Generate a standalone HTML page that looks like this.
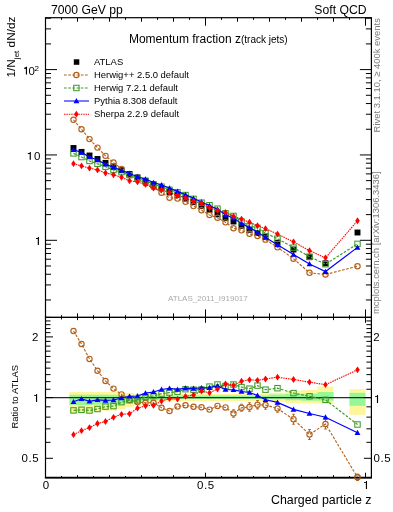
<!DOCTYPE html><html><head><meta charset="utf-8"><style>html,body{margin:0;padding:0;background:#fff;}svg{display:block;will-change:transform}text{font-family:'Liberation Sans',sans-serif}</style></head><body>
<svg width="393" height="512" viewBox="0 0 393 512">
<rect width="393" height="512" fill="#fff"/>
<path d="M69.50,391.90 L77.50,391.90 L77.50,391.90 L85.50,391.90 L85.50,391.90 L93.50,391.90 L93.50,391.90 L101.50,391.90 L101.50,391.90 L109.50,391.90 L109.50,391.90 L117.50,391.90 L117.50,392.60 L125.50,392.60 L125.50,393.10 L133.50,393.10 L133.50,393.70 L141.50,393.70 L141.50,394.00 L149.50,394.00 L149.50,394.20 L157.50,394.20 L157.50,394.30 L165.50,394.30 L165.50,394.30 L173.50,394.30 L173.50,394.10 L181.50,394.10 L181.50,394.10 L189.50,394.10 L189.50,394.10 L197.50,394.10 L197.50,394.10 L205.50,394.10 L205.50,394.10 L213.50,394.10 L213.50,394.10 L221.50,394.10 L221.50,394.10 L229.50,394.10 L229.50,394.10 L237.50,394.10 L237.50,394.10 L245.50,394.10 L245.50,394.10 L253.50,394.10 L253.50,394.10 L261.50,394.10 L261.50,394.10 L269.50,394.10 L269.50,392.80 L285.50,392.80 L285.50,391.00 L301.50,391.00 L301.50,390.10 L317.50,390.10 L317.50,386.60 L333.50,386.60 L333.50,403.80 L317.50,403.80 L317.50,403.60 L301.50,403.60 L301.50,403.20 L285.50,403.20 L285.50,401.70 L269.50,401.70 L269.50,400.90 L261.50,400.90 L261.50,400.90 L253.50,400.90 L253.50,400.90 L245.50,400.90 L245.50,400.90 L237.50,400.90 L237.50,400.90 L229.50,400.90 L229.50,400.90 L221.50,400.90 L221.50,400.90 L213.50,400.90 L213.50,400.90 L205.50,400.90 L205.50,400.90 L197.50,400.90 L197.50,400.90 L189.50,400.90 L189.50,400.90 L181.50,400.90 L181.50,400.90 L173.50,400.90 L173.50,401.60 L165.50,401.60 L165.50,401.60 L157.50,401.60 L157.50,401.80 L149.50,401.80 L149.50,403.30 L141.50,403.30 L141.50,405.40 L133.50,405.40 L133.50,406.90 L125.50,406.90 L125.50,408.90 L117.50,408.90 L117.50,410.40 L109.50,410.40 L109.50,410.80 L101.50,410.80 L101.50,411.60 L93.50,411.60 L93.50,413.20 L85.50,413.20 L85.50,413.20 L77.50,413.20 L77.50,413.20 L69.50,413.20 Z" fill="#fff59a"/>
<path d="M69.50,394.80 L77.50,394.80 L77.50,394.80 L85.50,394.80 L85.50,394.80 L93.50,394.80 L93.50,394.80 L101.50,394.80 L101.50,394.80 L109.50,394.80 L109.50,394.80 L117.50,394.80 L117.50,395.20 L125.50,395.20 L125.50,395.20 L133.50,395.20 L133.50,395.70 L141.50,395.70 L141.50,395.70 L149.50,395.70 L149.50,396.00 L157.50,396.00 L157.50,396.00 L165.50,396.00 L165.50,396.00 L173.50,396.00 L173.50,395.40 L181.50,395.40 L181.50,395.40 L189.50,395.40 L189.50,395.40 L197.50,395.40 L197.50,395.40 L205.50,395.40 L205.50,395.40 L213.50,395.40 L213.50,395.40 L221.50,395.40 L221.50,395.40 L229.50,395.40 L229.50,395.40 L237.50,395.40 L237.50,395.40 L245.50,395.40 L245.50,395.40 L253.50,395.40 L253.50,395.40 L261.50,395.40 L261.50,395.40 L269.50,395.40 L269.50,394.60 L285.50,394.60 L285.50,394.00 L301.50,394.00 L301.50,393.70 L317.50,393.70 L317.50,391.90 L333.50,391.90 L333.50,400.80 L317.50,400.80 L317.50,400.70 L301.50,400.70 L301.50,400.20 L285.50,400.20 L285.50,399.20 L269.50,399.20 L269.50,399.10 L261.50,399.10 L261.50,399.10 L253.50,399.10 L253.50,399.10 L245.50,399.10 L245.50,399.10 L237.50,399.10 L237.50,399.10 L229.50,399.10 L229.50,399.10 L221.50,399.10 L221.50,399.10 L213.50,399.10 L213.50,399.10 L205.50,399.10 L205.50,399.10 L197.50,399.10 L197.50,399.10 L189.50,399.10 L189.50,399.10 L181.50,399.10 L181.50,399.10 L173.50,399.10 L173.50,400.00 L165.50,400.00 L165.50,400.00 L157.50,400.00 L157.50,400.30 L149.50,400.30 L149.50,400.80 L141.50,400.80 L141.50,402.30 L133.50,402.30 L133.50,403.30 L125.50,403.30 L125.50,404.30 L117.50,404.30 L117.50,404.40 L109.50,404.40 L109.50,404.40 L101.50,404.40 L101.50,404.60 L93.50,404.60 L93.50,405.00 L85.50,405.00 L85.50,405.00 L77.50,405.00 L77.50,405.00 L69.50,405.00 Z" fill="#96f796"/>
<path d="M349.50,389.00 L365.50,389.00 L365.50,414.80 L349.50,414.80 Z" fill="#fff59a"/>
<path d="M349.50,392.80 L365.50,392.80 L365.50,405.80 L349.50,405.80 Z" fill="#96f796"/>
<line x1="45.5" y1="397.6" x2="371.4" y2="397.6" stroke="#2a2a2a" stroke-width="1.05"/>
<line x1="45.50" y1="17.70" x2="45.50" y2="25.70" stroke="#000" stroke-width="1.0"/>
<line x1="45.50" y1="317.40" x2="45.50" y2="309.40" stroke="#000" stroke-width="1.0"/>
<line x1="45.50" y1="317.40" x2="45.50" y2="322.80" stroke="#000" stroke-width="1.0"/>
<line x1="45.50" y1="477.70" x2="45.50" y2="472.70" stroke="#000" stroke-width="1.0"/>
<line x1="61.50" y1="17.70" x2="61.50" y2="19.90" stroke="#000" stroke-width="1.0"/>
<line x1="61.50" y1="317.40" x2="61.50" y2="315.20" stroke="#000" stroke-width="1.0"/>
<line x1="61.50" y1="317.40" x2="61.50" y2="319.40" stroke="#000" stroke-width="1.0"/>
<line x1="61.50" y1="477.70" x2="61.50" y2="476.00" stroke="#000" stroke-width="1.0"/>
<line x1="77.50" y1="17.70" x2="77.50" y2="21.70" stroke="#000" stroke-width="1.0"/>
<line x1="77.50" y1="317.40" x2="77.50" y2="313.40" stroke="#000" stroke-width="1.0"/>
<line x1="77.50" y1="317.40" x2="77.50" y2="320.10" stroke="#000" stroke-width="1.0"/>
<line x1="77.50" y1="477.70" x2="77.50" y2="475.10" stroke="#000" stroke-width="1.0"/>
<line x1="93.50" y1="17.70" x2="93.50" y2="19.90" stroke="#000" stroke-width="1.0"/>
<line x1="93.50" y1="317.40" x2="93.50" y2="315.20" stroke="#000" stroke-width="1.0"/>
<line x1="93.50" y1="317.40" x2="93.50" y2="319.40" stroke="#000" stroke-width="1.0"/>
<line x1="93.50" y1="477.70" x2="93.50" y2="476.00" stroke="#000" stroke-width="1.0"/>
<line x1="109.50" y1="17.70" x2="109.50" y2="21.70" stroke="#000" stroke-width="1.0"/>
<line x1="109.50" y1="317.40" x2="109.50" y2="313.40" stroke="#000" stroke-width="1.0"/>
<line x1="109.50" y1="317.40" x2="109.50" y2="320.10" stroke="#000" stroke-width="1.0"/>
<line x1="109.50" y1="477.70" x2="109.50" y2="475.10" stroke="#000" stroke-width="1.0"/>
<line x1="125.50" y1="17.70" x2="125.50" y2="19.90" stroke="#000" stroke-width="1.0"/>
<line x1="125.50" y1="317.40" x2="125.50" y2="315.20" stroke="#000" stroke-width="1.0"/>
<line x1="125.50" y1="317.40" x2="125.50" y2="319.40" stroke="#000" stroke-width="1.0"/>
<line x1="125.50" y1="477.70" x2="125.50" y2="476.00" stroke="#000" stroke-width="1.0"/>
<line x1="141.50" y1="17.70" x2="141.50" y2="21.70" stroke="#000" stroke-width="1.0"/>
<line x1="141.50" y1="317.40" x2="141.50" y2="313.40" stroke="#000" stroke-width="1.0"/>
<line x1="141.50" y1="317.40" x2="141.50" y2="320.10" stroke="#000" stroke-width="1.0"/>
<line x1="141.50" y1="477.70" x2="141.50" y2="475.10" stroke="#000" stroke-width="1.0"/>
<line x1="157.50" y1="17.70" x2="157.50" y2="19.90" stroke="#000" stroke-width="1.0"/>
<line x1="157.50" y1="317.40" x2="157.50" y2="315.20" stroke="#000" stroke-width="1.0"/>
<line x1="157.50" y1="317.40" x2="157.50" y2="319.40" stroke="#000" stroke-width="1.0"/>
<line x1="157.50" y1="477.70" x2="157.50" y2="476.00" stroke="#000" stroke-width="1.0"/>
<line x1="173.50" y1="17.70" x2="173.50" y2="21.70" stroke="#000" stroke-width="1.0"/>
<line x1="173.50" y1="317.40" x2="173.50" y2="313.40" stroke="#000" stroke-width="1.0"/>
<line x1="173.50" y1="317.40" x2="173.50" y2="320.10" stroke="#000" stroke-width="1.0"/>
<line x1="173.50" y1="477.70" x2="173.50" y2="475.10" stroke="#000" stroke-width="1.0"/>
<line x1="189.50" y1="17.70" x2="189.50" y2="19.90" stroke="#000" stroke-width="1.0"/>
<line x1="189.50" y1="317.40" x2="189.50" y2="315.20" stroke="#000" stroke-width="1.0"/>
<line x1="189.50" y1="317.40" x2="189.50" y2="319.40" stroke="#000" stroke-width="1.0"/>
<line x1="189.50" y1="477.70" x2="189.50" y2="476.00" stroke="#000" stroke-width="1.0"/>
<line x1="205.50" y1="17.70" x2="205.50" y2="25.70" stroke="#000" stroke-width="1.0"/>
<line x1="205.50" y1="317.40" x2="205.50" y2="309.40" stroke="#000" stroke-width="1.0"/>
<line x1="205.50" y1="317.40" x2="205.50" y2="322.80" stroke="#000" stroke-width="1.0"/>
<line x1="205.50" y1="477.70" x2="205.50" y2="472.70" stroke="#000" stroke-width="1.0"/>
<line x1="221.50" y1="17.70" x2="221.50" y2="19.90" stroke="#000" stroke-width="1.0"/>
<line x1="221.50" y1="317.40" x2="221.50" y2="315.20" stroke="#000" stroke-width="1.0"/>
<line x1="221.50" y1="317.40" x2="221.50" y2="319.40" stroke="#000" stroke-width="1.0"/>
<line x1="221.50" y1="477.70" x2="221.50" y2="476.00" stroke="#000" stroke-width="1.0"/>
<line x1="237.50" y1="17.70" x2="237.50" y2="21.70" stroke="#000" stroke-width="1.0"/>
<line x1="237.50" y1="317.40" x2="237.50" y2="313.40" stroke="#000" stroke-width="1.0"/>
<line x1="237.50" y1="317.40" x2="237.50" y2="320.10" stroke="#000" stroke-width="1.0"/>
<line x1="237.50" y1="477.70" x2="237.50" y2="475.10" stroke="#000" stroke-width="1.0"/>
<line x1="253.50" y1="17.70" x2="253.50" y2="19.90" stroke="#000" stroke-width="1.0"/>
<line x1="253.50" y1="317.40" x2="253.50" y2="315.20" stroke="#000" stroke-width="1.0"/>
<line x1="253.50" y1="317.40" x2="253.50" y2="319.40" stroke="#000" stroke-width="1.0"/>
<line x1="253.50" y1="477.70" x2="253.50" y2="476.00" stroke="#000" stroke-width="1.0"/>
<line x1="269.50" y1="17.70" x2="269.50" y2="21.70" stroke="#000" stroke-width="1.0"/>
<line x1="269.50" y1="317.40" x2="269.50" y2="313.40" stroke="#000" stroke-width="1.0"/>
<line x1="269.50" y1="317.40" x2="269.50" y2="320.10" stroke="#000" stroke-width="1.0"/>
<line x1="269.50" y1="477.70" x2="269.50" y2="475.10" stroke="#000" stroke-width="1.0"/>
<line x1="285.50" y1="17.70" x2="285.50" y2="19.90" stroke="#000" stroke-width="1.0"/>
<line x1="285.50" y1="317.40" x2="285.50" y2="315.20" stroke="#000" stroke-width="1.0"/>
<line x1="285.50" y1="317.40" x2="285.50" y2="319.40" stroke="#000" stroke-width="1.0"/>
<line x1="285.50" y1="477.70" x2="285.50" y2="476.00" stroke="#000" stroke-width="1.0"/>
<line x1="301.50" y1="17.70" x2="301.50" y2="21.70" stroke="#000" stroke-width="1.0"/>
<line x1="301.50" y1="317.40" x2="301.50" y2="313.40" stroke="#000" stroke-width="1.0"/>
<line x1="301.50" y1="317.40" x2="301.50" y2="320.10" stroke="#000" stroke-width="1.0"/>
<line x1="301.50" y1="477.70" x2="301.50" y2="475.10" stroke="#000" stroke-width="1.0"/>
<line x1="317.50" y1="17.70" x2="317.50" y2="19.90" stroke="#000" stroke-width="1.0"/>
<line x1="317.50" y1="317.40" x2="317.50" y2="315.20" stroke="#000" stroke-width="1.0"/>
<line x1="317.50" y1="317.40" x2="317.50" y2="319.40" stroke="#000" stroke-width="1.0"/>
<line x1="317.50" y1="477.70" x2="317.50" y2="476.00" stroke="#000" stroke-width="1.0"/>
<line x1="333.50" y1="17.70" x2="333.50" y2="21.70" stroke="#000" stroke-width="1.0"/>
<line x1="333.50" y1="317.40" x2="333.50" y2="313.40" stroke="#000" stroke-width="1.0"/>
<line x1="333.50" y1="317.40" x2="333.50" y2="320.10" stroke="#000" stroke-width="1.0"/>
<line x1="333.50" y1="477.70" x2="333.50" y2="475.10" stroke="#000" stroke-width="1.0"/>
<line x1="349.50" y1="17.70" x2="349.50" y2="19.90" stroke="#000" stroke-width="1.0"/>
<line x1="349.50" y1="317.40" x2="349.50" y2="315.20" stroke="#000" stroke-width="1.0"/>
<line x1="349.50" y1="317.40" x2="349.50" y2="319.40" stroke="#000" stroke-width="1.0"/>
<line x1="349.50" y1="477.70" x2="349.50" y2="476.00" stroke="#000" stroke-width="1.0"/>
<line x1="365.50" y1="17.70" x2="365.50" y2="25.70" stroke="#000" stroke-width="1.0"/>
<line x1="365.50" y1="317.40" x2="365.50" y2="309.40" stroke="#000" stroke-width="1.0"/>
<line x1="365.50" y1="317.40" x2="365.50" y2="322.80" stroke="#000" stroke-width="1.0"/>
<line x1="365.50" y1="477.70" x2="365.50" y2="472.70" stroke="#000" stroke-width="1.0"/>
<line x1="45.50" y1="299.96" x2="51.00" y2="299.96" stroke="#000" stroke-width="1.0"/>
<line x1="371.40" y1="299.96" x2="365.90" y2="299.96" stroke="#000" stroke-width="1.0"/>
<line x1="45.50" y1="284.93" x2="51.00" y2="284.93" stroke="#000" stroke-width="1.0"/>
<line x1="371.40" y1="284.93" x2="365.90" y2="284.93" stroke="#000" stroke-width="1.0"/>
<line x1="45.50" y1="274.26" x2="51.00" y2="274.26" stroke="#000" stroke-width="1.0"/>
<line x1="371.40" y1="274.26" x2="365.90" y2="274.26" stroke="#000" stroke-width="1.0"/>
<line x1="45.50" y1="265.99" x2="51.00" y2="265.99" stroke="#000" stroke-width="1.0"/>
<line x1="371.40" y1="265.99" x2="365.90" y2="265.99" stroke="#000" stroke-width="1.0"/>
<line x1="45.50" y1="259.23" x2="51.00" y2="259.23" stroke="#000" stroke-width="1.0"/>
<line x1="371.40" y1="259.23" x2="365.90" y2="259.23" stroke="#000" stroke-width="1.0"/>
<line x1="45.50" y1="253.52" x2="51.00" y2="253.52" stroke="#000" stroke-width="1.0"/>
<line x1="371.40" y1="253.52" x2="365.90" y2="253.52" stroke="#000" stroke-width="1.0"/>
<line x1="45.50" y1="248.57" x2="51.00" y2="248.57" stroke="#000" stroke-width="1.0"/>
<line x1="371.40" y1="248.57" x2="365.90" y2="248.57" stroke="#000" stroke-width="1.0"/>
<line x1="45.50" y1="244.21" x2="51.00" y2="244.21" stroke="#000" stroke-width="1.0"/>
<line x1="371.40" y1="244.21" x2="365.90" y2="244.21" stroke="#000" stroke-width="1.0"/>
<line x1="45.50" y1="240.30" x2="57.00" y2="240.30" stroke="#000" stroke-width="1.0"/>
<line x1="371.40" y1="240.30" x2="359.90" y2="240.30" stroke="#000" stroke-width="1.0"/>
<line x1="45.50" y1="214.61" x2="51.00" y2="214.61" stroke="#000" stroke-width="1.0"/>
<line x1="371.40" y1="214.61" x2="365.90" y2="214.61" stroke="#000" stroke-width="1.0"/>
<line x1="45.50" y1="199.58" x2="51.00" y2="199.58" stroke="#000" stroke-width="1.0"/>
<line x1="371.40" y1="199.58" x2="365.90" y2="199.58" stroke="#000" stroke-width="1.0"/>
<line x1="45.50" y1="188.91" x2="51.00" y2="188.91" stroke="#000" stroke-width="1.0"/>
<line x1="371.40" y1="188.91" x2="365.90" y2="188.91" stroke="#000" stroke-width="1.0"/>
<line x1="45.50" y1="180.64" x2="51.00" y2="180.64" stroke="#000" stroke-width="1.0"/>
<line x1="371.40" y1="180.64" x2="365.90" y2="180.64" stroke="#000" stroke-width="1.0"/>
<line x1="45.50" y1="173.88" x2="51.00" y2="173.88" stroke="#000" stroke-width="1.0"/>
<line x1="371.40" y1="173.88" x2="365.90" y2="173.88" stroke="#000" stroke-width="1.0"/>
<line x1="45.50" y1="168.17" x2="51.00" y2="168.17" stroke="#000" stroke-width="1.0"/>
<line x1="371.40" y1="168.17" x2="365.90" y2="168.17" stroke="#000" stroke-width="1.0"/>
<line x1="45.50" y1="163.22" x2="51.00" y2="163.22" stroke="#000" stroke-width="1.0"/>
<line x1="371.40" y1="163.22" x2="365.90" y2="163.22" stroke="#000" stroke-width="1.0"/>
<line x1="45.50" y1="158.86" x2="51.00" y2="158.86" stroke="#000" stroke-width="1.0"/>
<line x1="371.40" y1="158.86" x2="365.90" y2="158.86" stroke="#000" stroke-width="1.0"/>
<line x1="45.50" y1="154.95" x2="57.00" y2="154.95" stroke="#000" stroke-width="1.0"/>
<line x1="371.40" y1="154.95" x2="359.90" y2="154.95" stroke="#000" stroke-width="1.0"/>
<line x1="45.50" y1="129.26" x2="51.00" y2="129.26" stroke="#000" stroke-width="1.0"/>
<line x1="371.40" y1="129.26" x2="365.90" y2="129.26" stroke="#000" stroke-width="1.0"/>
<line x1="45.50" y1="114.23" x2="51.00" y2="114.23" stroke="#000" stroke-width="1.0"/>
<line x1="371.40" y1="114.23" x2="365.90" y2="114.23" stroke="#000" stroke-width="1.0"/>
<line x1="45.50" y1="103.56" x2="51.00" y2="103.56" stroke="#000" stroke-width="1.0"/>
<line x1="371.40" y1="103.56" x2="365.90" y2="103.56" stroke="#000" stroke-width="1.0"/>
<line x1="45.50" y1="95.29" x2="51.00" y2="95.29" stroke="#000" stroke-width="1.0"/>
<line x1="371.40" y1="95.29" x2="365.90" y2="95.29" stroke="#000" stroke-width="1.0"/>
<line x1="45.50" y1="88.53" x2="51.00" y2="88.53" stroke="#000" stroke-width="1.0"/>
<line x1="371.40" y1="88.53" x2="365.90" y2="88.53" stroke="#000" stroke-width="1.0"/>
<line x1="45.50" y1="82.82" x2="51.00" y2="82.82" stroke="#000" stroke-width="1.0"/>
<line x1="371.40" y1="82.82" x2="365.90" y2="82.82" stroke="#000" stroke-width="1.0"/>
<line x1="45.50" y1="77.87" x2="51.00" y2="77.87" stroke="#000" stroke-width="1.0"/>
<line x1="371.40" y1="77.87" x2="365.90" y2="77.87" stroke="#000" stroke-width="1.0"/>
<line x1="45.50" y1="73.51" x2="51.00" y2="73.51" stroke="#000" stroke-width="1.0"/>
<line x1="371.40" y1="73.51" x2="365.90" y2="73.51" stroke="#000" stroke-width="1.0"/>
<line x1="45.50" y1="69.60" x2="57.00" y2="69.60" stroke="#000" stroke-width="1.0"/>
<line x1="371.40" y1="69.60" x2="359.90" y2="69.60" stroke="#000" stroke-width="1.0"/>
<line x1="45.50" y1="43.91" x2="51.00" y2="43.91" stroke="#000" stroke-width="1.0"/>
<line x1="371.40" y1="43.91" x2="365.90" y2="43.91" stroke="#000" stroke-width="1.0"/>
<line x1="45.50" y1="28.88" x2="51.00" y2="28.88" stroke="#000" stroke-width="1.0"/>
<line x1="371.40" y1="28.88" x2="365.90" y2="28.88" stroke="#000" stroke-width="1.0"/>
<line x1="45.50" y1="18.21" x2="51.00" y2="18.21" stroke="#000" stroke-width="1.0"/>
<line x1="371.40" y1="18.21" x2="365.90" y2="18.21" stroke="#000" stroke-width="1.0"/>
<line x1="45.50" y1="458.30" x2="53.00" y2="458.30" stroke="#000" stroke-width="1.0"/>
<line x1="371.40" y1="458.30" x2="363.90" y2="458.30" stroke="#000" stroke-width="1.0"/>
<line x1="45.50" y1="442.33" x2="50.50" y2="442.33" stroke="#000" stroke-width="1.0"/>
<line x1="371.40" y1="442.33" x2="366.40" y2="442.33" stroke="#000" stroke-width="1.0"/>
<line x1="45.50" y1="428.83" x2="50.50" y2="428.83" stroke="#000" stroke-width="1.0"/>
<line x1="371.40" y1="428.83" x2="366.40" y2="428.83" stroke="#000" stroke-width="1.0"/>
<line x1="45.50" y1="417.14" x2="50.50" y2="417.14" stroke="#000" stroke-width="1.0"/>
<line x1="371.40" y1="417.14" x2="366.40" y2="417.14" stroke="#000" stroke-width="1.0"/>
<line x1="45.50" y1="406.83" x2="50.50" y2="406.83" stroke="#000" stroke-width="1.0"/>
<line x1="371.40" y1="406.83" x2="366.40" y2="406.83" stroke="#000" stroke-width="1.0"/>
<line x1="45.50" y1="397.60" x2="53.00" y2="397.60" stroke="#000" stroke-width="1.0"/>
<line x1="371.40" y1="397.60" x2="363.90" y2="397.60" stroke="#000" stroke-width="1.0"/>
<line x1="45.50" y1="389.25" x2="50.50" y2="389.25" stroke="#000" stroke-width="1.0"/>
<line x1="371.40" y1="389.25" x2="366.40" y2="389.25" stroke="#000" stroke-width="1.0"/>
<line x1="45.50" y1="381.63" x2="50.50" y2="381.63" stroke="#000" stroke-width="1.0"/>
<line x1="371.40" y1="381.63" x2="366.40" y2="381.63" stroke="#000" stroke-width="1.0"/>
<line x1="45.50" y1="374.62" x2="50.50" y2="374.62" stroke="#000" stroke-width="1.0"/>
<line x1="371.40" y1="374.62" x2="366.40" y2="374.62" stroke="#000" stroke-width="1.0"/>
<line x1="45.50" y1="368.13" x2="50.50" y2="368.13" stroke="#000" stroke-width="1.0"/>
<line x1="371.40" y1="368.13" x2="366.40" y2="368.13" stroke="#000" stroke-width="1.0"/>
<line x1="45.50" y1="362.09" x2="50.50" y2="362.09" stroke="#000" stroke-width="1.0"/>
<line x1="371.40" y1="362.09" x2="366.40" y2="362.09" stroke="#000" stroke-width="1.0"/>
<line x1="45.50" y1="356.44" x2="50.50" y2="356.44" stroke="#000" stroke-width="1.0"/>
<line x1="371.40" y1="356.44" x2="366.40" y2="356.44" stroke="#000" stroke-width="1.0"/>
<line x1="45.50" y1="351.13" x2="50.50" y2="351.13" stroke="#000" stroke-width="1.0"/>
<line x1="371.40" y1="351.13" x2="366.40" y2="351.13" stroke="#000" stroke-width="1.0"/>
<line x1="45.50" y1="346.13" x2="50.50" y2="346.13" stroke="#000" stroke-width="1.0"/>
<line x1="371.40" y1="346.13" x2="366.40" y2="346.13" stroke="#000" stroke-width="1.0"/>
<line x1="45.50" y1="341.39" x2="50.50" y2="341.39" stroke="#000" stroke-width="1.0"/>
<line x1="371.40" y1="341.39" x2="366.40" y2="341.39" stroke="#000" stroke-width="1.0"/>
<line x1="45.50" y1="336.90" x2="53.00" y2="336.90" stroke="#000" stroke-width="1.0"/>
<line x1="371.40" y1="336.90" x2="363.90" y2="336.90" stroke="#000" stroke-width="1.0"/>
<line x1="45.50" y1="332.63" x2="50.50" y2="332.63" stroke="#000" stroke-width="1.0"/>
<line x1="371.40" y1="332.63" x2="366.40" y2="332.63" stroke="#000" stroke-width="1.0"/>
<line x1="45.50" y1="328.55" x2="50.50" y2="328.55" stroke="#000" stroke-width="1.0"/>
<line x1="371.40" y1="328.55" x2="366.40" y2="328.55" stroke="#000" stroke-width="1.0"/>
<line x1="45.50" y1="324.66" x2="50.50" y2="324.66" stroke="#000" stroke-width="1.0"/>
<line x1="371.40" y1="324.66" x2="366.40" y2="324.66" stroke="#000" stroke-width="1.0"/>
<line x1="45.50" y1="320.93" x2="50.50" y2="320.93" stroke="#000" stroke-width="1.0"/>
<line x1="371.40" y1="320.93" x2="366.40" y2="320.93" stroke="#000" stroke-width="1.0"/>
<line x1="45.50" y1="317.36" x2="50.50" y2="317.36" stroke="#000" stroke-width="1.0"/>
<line x1="371.40" y1="317.36" x2="366.40" y2="317.36" stroke="#000" stroke-width="1.0"/>
<defs><clipPath id="cm"><rect x="45.5" y="17.7" width="325.9" height="299.7"/></clipPath><clipPath id="cr"><rect x="45.5" y="317.4" width="325.9" height="160.3"/></clipPath></defs>
<g clip-path="url(#cm)"><rect x="70.55" y="145.05" width="5.9" height="5.9" fill="#000"/><rect x="78.55" y="148.95" width="5.9" height="5.9" fill="#000"/><rect x="86.55" y="152.55" width="5.9" height="5.9" fill="#000"/><rect x="94.55" y="156.05" width="5.9" height="5.9" fill="#000"/><rect x="102.55" y="159.95" width="5.9" height="5.9" fill="#000"/><rect x="110.55" y="163.45" width="5.9" height="5.9" fill="#000"/><rect x="118.55" y="167.25" width="5.9" height="5.9" fill="#000"/><rect x="126.55" y="171.05" width="5.9" height="5.9" fill="#000"/><rect x="134.55" y="174.45" width="5.9" height="5.9" fill="#000"/><rect x="142.55" y="178.05" width="5.9" height="5.9" fill="#000"/><rect x="150.55" y="181.95" width="5.9" height="5.9" fill="#000"/><rect x="158.55" y="185.45" width="5.9" height="5.9" fill="#000"/><rect x="166.55" y="189.05" width="5.9" height="5.9" fill="#000"/><rect x="174.55" y="191.85" width="5.9" height="5.9" fill="#000"/><rect x="182.55" y="195.65" width="5.9" height="5.9" fill="#000"/><rect x="190.55" y="199.25" width="5.9" height="5.9" fill="#000"/><rect x="198.55" y="203.15" width="5.9" height="5.9" fill="#000"/><rect x="206.55" y="206.95" width="5.9" height="5.9" fill="#000"/><rect x="214.55" y="211.25" width="5.9" height="5.9" fill="#000"/><rect x="222.55" y="215.25" width="5.9" height="5.9" fill="#000"/><rect x="230.55" y="218.55" width="5.9" height="5.9" fill="#000"/><rect x="238.55" y="223.05" width="5.9" height="5.9" fill="#000"/><rect x="246.55" y="226.85" width="5.9" height="5.9" fill="#000"/><rect x="254.55" y="230.05" width="5.9" height="5.9" fill="#000"/><rect x="262.55" y="233.55" width="5.9" height="5.9" fill="#000"/><rect x="274.55" y="239.75" width="5.9" height="5.9" fill="#000"/><rect x="290.55" y="246.55" width="5.9" height="5.9" fill="#000"/><rect x="306.55" y="254.25" width="5.9" height="5.9" fill="#000"/><rect x="322.55" y="260.35" width="5.9" height="5.9" fill="#000"/><rect x="354.55" y="229.55" width="5.9" height="5.9" fill="#000"/><path d="M73.50,119.81 L81.50,129.21 L89.50,139.12 L97.50,147.61 L105.50,155.87 L113.50,162.59 L121.50,168.85 L129.50,174.97 L137.50,179.30 L145.50,183.16 L153.50,187.06 L161.50,192.68 L169.50,197.67 L177.50,198.57 L185.50,201.86 L193.50,206.09 L201.50,210.21 L209.50,214.98 L217.50,217.71 L225.50,222.35 L233.50,228.23 L241.50,230.32 L249.50,233.78 L257.50,236.01 L265.50,239.63 L277.50,247.31 L293.50,258.69 L309.50,272.82 L325.50,274.48 L357.50,266.24" fill="none" stroke="#b3601a" stroke-width="1.1" stroke-dasharray="2.7,1.5"/><circle cx="73.50" cy="119.81" r="2.65" fill="none" stroke="#b3601a" stroke-width="1.15"/><circle cx="81.50" cy="129.21" r="2.65" fill="none" stroke="#b3601a" stroke-width="1.15"/><circle cx="89.50" cy="139.12" r="2.65" fill="none" stroke="#b3601a" stroke-width="1.15"/><circle cx="97.50" cy="147.61" r="2.65" fill="none" stroke="#b3601a" stroke-width="1.15"/><circle cx="105.50" cy="155.87" r="2.65" fill="none" stroke="#b3601a" stroke-width="1.15"/><circle cx="113.50" cy="162.59" r="2.65" fill="none" stroke="#b3601a" stroke-width="1.15"/><circle cx="121.50" cy="168.85" r="2.65" fill="none" stroke="#b3601a" stroke-width="1.15"/><circle cx="129.50" cy="174.97" r="2.65" fill="none" stroke="#b3601a" stroke-width="1.15"/><circle cx="137.50" cy="179.30" r="2.65" fill="none" stroke="#b3601a" stroke-width="1.15"/><circle cx="145.50" cy="183.16" r="2.65" fill="none" stroke="#b3601a" stroke-width="1.15"/><circle cx="153.50" cy="187.06" r="2.65" fill="none" stroke="#b3601a" stroke-width="1.15"/><circle cx="161.50" cy="192.68" r="2.65" fill="none" stroke="#b3601a" stroke-width="1.15"/><circle cx="169.50" cy="197.67" r="2.65" fill="none" stroke="#b3601a" stroke-width="1.15"/><circle cx="177.50" cy="198.57" r="2.65" fill="none" stroke="#b3601a" stroke-width="1.15"/><circle cx="185.50" cy="201.86" r="2.65" fill="none" stroke="#b3601a" stroke-width="1.15"/><circle cx="193.50" cy="206.09" r="2.65" fill="none" stroke="#b3601a" stroke-width="1.15"/><circle cx="201.50" cy="210.21" r="2.65" fill="none" stroke="#b3601a" stroke-width="1.15"/><circle cx="209.50" cy="214.98" r="2.65" fill="none" stroke="#b3601a" stroke-width="1.15"/><circle cx="217.50" cy="217.71" r="2.65" fill="none" stroke="#b3601a" stroke-width="1.15"/><circle cx="225.50" cy="222.35" r="2.65" fill="none" stroke="#b3601a" stroke-width="1.15"/><circle cx="233.50" cy="228.23" r="2.65" fill="none" stroke="#b3601a" stroke-width="1.15"/><circle cx="241.50" cy="230.32" r="2.65" fill="none" stroke="#b3601a" stroke-width="1.15"/><circle cx="249.50" cy="233.78" r="2.65" fill="none" stroke="#b3601a" stroke-width="1.15"/><circle cx="257.50" cy="236.01" r="2.65" fill="none" stroke="#b3601a" stroke-width="1.15"/><circle cx="265.50" cy="239.63" r="2.65" fill="none" stroke="#b3601a" stroke-width="1.15"/><circle cx="277.50" cy="247.31" r="2.65" fill="none" stroke="#b3601a" stroke-width="1.15"/><circle cx="293.50" cy="258.69" r="2.65" fill="none" stroke="#b3601a" stroke-width="1.15"/><circle cx="309.50" cy="272.82" r="2.65" fill="none" stroke="#b3601a" stroke-width="1.15"/><circle cx="325.50" cy="274.48" r="2.65" fill="none" stroke="#b3601a" stroke-width="1.15"/><circle cx="357.50" cy="266.24" r="2.65" fill="none" stroke="#b3601a" stroke-width="1.15"/><path d="M73.50,153.42 L81.50,157.06 L89.50,160.96 L97.50,163.83 L105.50,166.71 L113.50,170.00 L121.50,172.15 L129.50,175.10 L137.50,178.63 L145.50,180.75 L153.50,184.22 L161.50,186.71 L169.50,189.88 L177.50,192.30 L185.50,195.04 L193.50,198.86 L201.50,202.67 L209.50,205.24 L217.50,208.65 L225.50,213.29 L233.50,215.95 L241.50,221.56 L249.50,226.03 L257.50,227.92 L265.50,233.16 L277.50,238.72 L293.50,247.60 L309.50,256.65 L325.50,264.23 L357.50,243.89" fill="none" stroke="#3e9c2a" stroke-width="1.2" stroke-dasharray="2.7,1.5"/><rect x="70.80" y="150.72" width="5.4" height="5.4" fill="none" stroke="#3e9c2a" stroke-width="1.05"/><rect x="78.80" y="154.36" width="5.4" height="5.4" fill="none" stroke="#3e9c2a" stroke-width="1.05"/><rect x="86.80" y="158.26" width="5.4" height="5.4" fill="none" stroke="#3e9c2a" stroke-width="1.05"/><rect x="94.80" y="161.13" width="5.4" height="5.4" fill="none" stroke="#3e9c2a" stroke-width="1.05"/><rect x="102.80" y="164.01" width="5.4" height="5.4" fill="none" stroke="#3e9c2a" stroke-width="1.05"/><rect x="110.80" y="167.30" width="5.4" height="5.4" fill="none" stroke="#3e9c2a" stroke-width="1.05"/><rect x="118.80" y="169.45" width="5.4" height="5.4" fill="none" stroke="#3e9c2a" stroke-width="1.05"/><rect x="126.80" y="172.40" width="5.4" height="5.4" fill="none" stroke="#3e9c2a" stroke-width="1.05"/><rect x="134.80" y="175.93" width="5.4" height="5.4" fill="none" stroke="#3e9c2a" stroke-width="1.05"/><rect x="142.80" y="178.05" width="5.4" height="5.4" fill="none" stroke="#3e9c2a" stroke-width="1.05"/><rect x="150.80" y="181.52" width="5.4" height="5.4" fill="none" stroke="#3e9c2a" stroke-width="1.05"/><rect x="158.80" y="184.01" width="5.4" height="5.4" fill="none" stroke="#3e9c2a" stroke-width="1.05"/><rect x="166.80" y="187.18" width="5.4" height="5.4" fill="none" stroke="#3e9c2a" stroke-width="1.05"/><rect x="174.80" y="189.60" width="5.4" height="5.4" fill="none" stroke="#3e9c2a" stroke-width="1.05"/><rect x="182.80" y="192.34" width="5.4" height="5.4" fill="none" stroke="#3e9c2a" stroke-width="1.05"/><rect x="190.80" y="196.16" width="5.4" height="5.4" fill="none" stroke="#3e9c2a" stroke-width="1.05"/><rect x="198.80" y="199.97" width="5.4" height="5.4" fill="none" stroke="#3e9c2a" stroke-width="1.05"/><rect x="206.80" y="202.54" width="5.4" height="5.4" fill="none" stroke="#3e9c2a" stroke-width="1.05"/><rect x="214.80" y="205.95" width="5.4" height="5.4" fill="none" stroke="#3e9c2a" stroke-width="1.05"/><rect x="222.80" y="210.59" width="5.4" height="5.4" fill="none" stroke="#3e9c2a" stroke-width="1.05"/><rect x="230.80" y="213.25" width="5.4" height="5.4" fill="none" stroke="#3e9c2a" stroke-width="1.05"/><rect x="238.80" y="218.86" width="5.4" height="5.4" fill="none" stroke="#3e9c2a" stroke-width="1.05"/><rect x="246.80" y="223.33" width="5.4" height="5.4" fill="none" stroke="#3e9c2a" stroke-width="1.05"/><rect x="254.80" y="225.22" width="5.4" height="5.4" fill="none" stroke="#3e9c2a" stroke-width="1.05"/><rect x="262.80" y="230.46" width="5.4" height="5.4" fill="none" stroke="#3e9c2a" stroke-width="1.05"/><rect x="274.80" y="236.02" width="5.4" height="5.4" fill="none" stroke="#3e9c2a" stroke-width="1.05"/><rect x="290.80" y="244.90" width="5.4" height="5.4" fill="none" stroke="#3e9c2a" stroke-width="1.05"/><rect x="306.80" y="253.95" width="5.4" height="5.4" fill="none" stroke="#3e9c2a" stroke-width="1.05"/><rect x="322.80" y="261.53" width="5.4" height="5.4" fill="none" stroke="#3e9c2a" stroke-width="1.05"/><rect x="354.80" y="241.19" width="5.4" height="5.4" fill="none" stroke="#3e9c2a" stroke-width="1.05"/><path d="M73.50,149.78 L81.50,152.41 L89.50,157.07 L97.50,159.93 L105.50,164.09 L113.50,167.42 L121.50,170.37 L129.50,173.45 L137.50,176.72 L145.50,179.10 L153.50,182.53 L161.50,184.97 L169.50,188.06 L177.50,191.33 L185.50,194.62 L193.50,198.31 L201.50,201.95 L209.50,205.71 L217.50,209.29 L225.50,214.77 L233.50,218.20 L241.50,223.42 L249.50,227.64 L257.50,232.11 L265.50,237.43 L277.50,244.73 L293.50,254.49 L309.50,263.93 L325.50,271.60 L357.50,247.36" fill="none" stroke="#0000ff" stroke-width="1.2"/><path d="M73.50,146.88 L76.40,152.08 L70.60,152.08 Z" fill="#0000ff"/><path d="M81.50,149.51 L84.40,154.71 L78.60,154.71 Z" fill="#0000ff"/><path d="M89.50,154.17 L92.40,159.37 L86.60,159.37 Z" fill="#0000ff"/><path d="M97.50,157.03 L100.40,162.23 L94.60,162.23 Z" fill="#0000ff"/><path d="M105.50,161.19 L108.40,166.39 L102.60,166.39 Z" fill="#0000ff"/><path d="M113.50,164.52 L116.40,169.72 L110.60,169.72 Z" fill="#0000ff"/><path d="M121.50,167.47 L124.40,172.67 L118.60,172.67 Z" fill="#0000ff"/><path d="M129.50,170.55 L132.40,175.75 L126.60,175.75 Z" fill="#0000ff"/><path d="M137.50,173.82 L140.40,179.02 L134.60,179.02 Z" fill="#0000ff"/><path d="M145.50,176.20 L148.40,181.40 L142.60,181.40 Z" fill="#0000ff"/><path d="M153.50,179.63 L156.40,184.83 L150.60,184.83 Z" fill="#0000ff"/><path d="M161.50,182.07 L164.40,187.27 L158.60,187.27 Z" fill="#0000ff"/><path d="M169.50,185.16 L172.40,190.36 L166.60,190.36 Z" fill="#0000ff"/><path d="M177.50,188.43 L180.40,193.63 L174.60,193.63 Z" fill="#0000ff"/><path d="M185.50,191.72 L188.40,196.92 L182.60,196.92 Z" fill="#0000ff"/><path d="M193.50,195.41 L196.40,200.61 L190.60,200.61 Z" fill="#0000ff"/><path d="M201.50,199.05 L204.40,204.25 L198.60,204.25 Z" fill="#0000ff"/><path d="M209.50,202.81 L212.40,208.01 L206.60,208.01 Z" fill="#0000ff"/><path d="M217.50,206.39 L220.40,211.59 L214.60,211.59 Z" fill="#0000ff"/><path d="M225.50,211.87 L228.40,217.07 L222.60,217.07 Z" fill="#0000ff"/><path d="M233.50,215.30 L236.40,220.50 L230.60,220.50 Z" fill="#0000ff"/><path d="M241.50,220.52 L244.40,225.72 L238.60,225.72 Z" fill="#0000ff"/><path d="M249.50,224.74 L252.40,229.94 L246.60,229.94 Z" fill="#0000ff"/><path d="M257.50,229.21 L260.40,234.41 L254.60,234.41 Z" fill="#0000ff"/><path d="M265.50,234.53 L268.40,239.73 L262.60,239.73 Z" fill="#0000ff"/><path d="M277.50,241.83 L280.40,247.03 L274.60,247.03 Z" fill="#0000ff"/><path d="M293.50,251.59 L296.40,256.79 L290.60,256.79 Z" fill="#0000ff"/><path d="M309.50,261.03 L312.40,266.23 L306.60,266.23 Z" fill="#0000ff"/><path d="M325.50,268.70 L328.40,273.90 L322.60,273.90 Z" fill="#0000ff"/><path d="M357.50,244.46 L360.40,249.66 L354.60,249.66 Z" fill="#0000ff"/><path d="M73.50,163.70 L81.50,165.91 L89.50,168.20 L97.50,169.96 L105.50,173.02 L113.50,174.74 L121.50,177.27 L129.50,180.86 L137.50,181.89 L145.50,184.47 L153.50,188.20 L161.50,189.84 L169.50,192.47 L177.50,195.43 L185.50,198.05 L193.50,201.10 L201.50,203.31 L209.50,207.87 L217.50,210.60 L225.50,212.44 L233.50,216.29 L241.50,219.06 L249.50,222.27 L257.50,225.68 L265.50,228.63 L277.50,234.06 L293.50,241.84 L309.50,250.68 L325.50,257.84 L357.50,220.73" fill="none" stroke="#ff0000" stroke-width="1.1" stroke-dasharray="1.5,0.9"/><path d="M73.50,160.30 L75.80,163.70 L73.50,167.10 L71.20,163.70 Z" fill="#ff0000"/><path d="M81.50,162.51 L83.80,165.91 L81.50,169.31 L79.20,165.91 Z" fill="#ff0000"/><path d="M89.50,164.80 L91.80,168.20 L89.50,171.60 L87.20,168.20 Z" fill="#ff0000"/><path d="M97.50,166.56 L99.80,169.96 L97.50,173.36 L95.20,169.96 Z" fill="#ff0000"/><path d="M105.50,169.62 L107.80,173.02 L105.50,176.42 L103.20,173.02 Z" fill="#ff0000"/><path d="M113.50,171.34 L115.80,174.74 L113.50,178.14 L111.20,174.74 Z" fill="#ff0000"/><path d="M121.50,173.87 L123.80,177.27 L121.50,180.67 L119.20,177.27 Z" fill="#ff0000"/><path d="M129.50,177.46 L131.80,180.86 L129.50,184.26 L127.20,180.86 Z" fill="#ff0000"/><path d="M137.50,178.49 L139.80,181.89 L137.50,185.29 L135.20,181.89 Z" fill="#ff0000"/><path d="M145.50,181.07 L147.80,184.47 L145.50,187.87 L143.20,184.47 Z" fill="#ff0000"/><path d="M153.50,184.80 L155.80,188.20 L153.50,191.60 L151.20,188.20 Z" fill="#ff0000"/><path d="M161.50,186.44 L163.80,189.84 L161.50,193.24 L159.20,189.84 Z" fill="#ff0000"/><path d="M169.50,189.07 L171.80,192.47 L169.50,195.87 L167.20,192.47 Z" fill="#ff0000"/><path d="M177.50,192.03 L179.80,195.43 L177.50,198.83 L175.20,195.43 Z" fill="#ff0000"/><path d="M185.50,194.65 L187.80,198.05 L185.50,201.45 L183.20,198.05 Z" fill="#ff0000"/><path d="M193.50,197.70 L195.80,201.10 L193.50,204.50 L191.20,201.10 Z" fill="#ff0000"/><path d="M201.50,199.91 L203.80,203.31 L201.50,206.71 L199.20,203.31 Z" fill="#ff0000"/><path d="M209.50,204.47 L211.80,207.87 L209.50,211.27 L207.20,207.87 Z" fill="#ff0000"/><path d="M217.50,207.20 L219.80,210.60 L217.50,214.00 L215.20,210.60 Z" fill="#ff0000"/><path d="M225.50,209.04 L227.80,212.44 L225.50,215.84 L223.20,212.44 Z" fill="#ff0000"/><path d="M233.50,212.89 L235.80,216.29 L233.50,219.69 L231.20,216.29 Z" fill="#ff0000"/><path d="M241.50,215.66 L243.80,219.06 L241.50,222.46 L239.20,219.06 Z" fill="#ff0000"/><path d="M249.50,218.87 L251.80,222.27 L249.50,225.67 L247.20,222.27 Z" fill="#ff0000"/><path d="M257.50,222.28 L259.80,225.68 L257.50,229.08 L255.20,225.68 Z" fill="#ff0000"/><path d="M265.50,225.23 L267.80,228.63 L265.50,232.03 L263.20,228.63 Z" fill="#ff0000"/><path d="M277.50,230.66 L279.80,234.06 L277.50,237.46 L275.20,234.06 Z" fill="#ff0000"/><path d="M293.50,238.44 L295.80,241.84 L293.50,245.24 L291.20,241.84 Z" fill="#ff0000"/><path d="M309.50,247.28 L311.80,250.68 L309.50,254.08 L307.20,250.68 Z" fill="#ff0000"/><path d="M325.50,254.44 L327.80,257.84 L325.50,261.24 L323.20,257.84 Z" fill="#ff0000"/><path d="M357.50,217.33 L359.80,220.73 L357.50,224.13 L355.20,220.73 Z" fill="#ff0000"/></g>
<path d="M73.50,331.00 L81.50,344.00 L89.50,358.90 L97.50,370.70 L105.50,381.00 L113.50,388.60 L121.50,394.40 L129.50,399.90 L137.50,402.10 L145.50,402.70 L153.50,402.70 L161.50,407.70 L169.50,411.00 L177.50,406.50 L185.50,405.30 L193.50,406.80 L201.50,407.30 L209.50,409.60 L217.50,405.90 L225.50,407.40 L233.50,413.50 L241.50,407.80 L249.50,407.00 L257.50,404.70 L265.50,405.00 L277.50,408.50 L293.50,419.30 L309.50,434.50 L325.50,424.00 L357.50,477.30" fill="none" stroke="#b3601a" stroke-width="1.1" stroke-dasharray="2.7,1.5"/><path d="M233.50,409.70 V410.50 M233.50,416.50 V417.30 M232.20,409.70 H234.80 M232.20,417.30 H234.80" stroke="#b3601a" stroke-width="1.1" fill="none"/><path d="M241.50,404.30 V404.80 M241.50,410.80 V411.30 M240.20,404.30 H242.80 M240.20,411.30 H242.80" stroke="#b3601a" stroke-width="1.1" fill="none"/><path d="M249.50,402.80 V404.00 M249.50,410.00 V411.20 M248.20,402.80 H250.80 M248.20,411.20 H250.80" stroke="#b3601a" stroke-width="1.1" fill="none"/><path d="M257.50,400.50 V401.70 M257.50,407.70 V408.90 M256.20,400.50 H258.80 M256.20,408.90 H258.80" stroke="#b3601a" stroke-width="1.1" fill="none"/><path d="M265.50,400.80 V402.00 M265.50,408.00 V409.20 M264.20,400.80 H266.80 M264.20,409.20 H266.80" stroke="#b3601a" stroke-width="1.1" fill="none"/><path d="M277.50,404.70 V405.50 M277.50,411.50 V412.30 M276.20,404.70 H278.80 M276.20,412.30 H278.80" stroke="#b3601a" stroke-width="1.1" fill="none"/><path d="M293.50,414.30 V416.30 M293.50,422.30 V424.30 M292.20,414.30 H294.80 M292.20,424.30 H294.80" stroke="#b3601a" stroke-width="1.1" fill="none"/><path d="M309.50,429.50 V431.50 M309.50,437.50 V439.50 M308.20,429.50 H310.80 M308.20,439.50 H310.80" stroke="#b3601a" stroke-width="1.1" fill="none"/><path d="M325.50,419.00 V421.00 M325.50,427.00 V429.00 M324.20,419.00 H326.80 M324.20,429.00 H326.80" stroke="#b3601a" stroke-width="1.1" fill="none"/><path d="M356.20,474.30 H358.80 M356.20,480.30 H358.80" stroke="#b3601a" stroke-width="1.1" fill="none"/><circle cx="73.50" cy="331.00" r="2.65" fill="none" stroke="#b3601a" stroke-width="1.15"/><circle cx="81.50" cy="344.00" r="2.65" fill="none" stroke="#b3601a" stroke-width="1.15"/><circle cx="89.50" cy="358.90" r="2.65" fill="none" stroke="#b3601a" stroke-width="1.15"/><circle cx="97.50" cy="370.70" r="2.65" fill="none" stroke="#b3601a" stroke-width="1.15"/><circle cx="105.50" cy="381.00" r="2.65" fill="none" stroke="#b3601a" stroke-width="1.15"/><circle cx="113.50" cy="388.60" r="2.65" fill="none" stroke="#b3601a" stroke-width="1.15"/><circle cx="121.50" cy="394.40" r="2.65" fill="none" stroke="#b3601a" stroke-width="1.15"/><circle cx="129.50" cy="399.90" r="2.65" fill="none" stroke="#b3601a" stroke-width="1.15"/><circle cx="137.50" cy="402.10" r="2.65" fill="none" stroke="#b3601a" stroke-width="1.15"/><circle cx="145.50" cy="402.70" r="2.65" fill="none" stroke="#b3601a" stroke-width="1.15"/><circle cx="153.50" cy="402.70" r="2.65" fill="none" stroke="#b3601a" stroke-width="1.15"/><circle cx="161.50" cy="407.70" r="2.65" fill="none" stroke="#b3601a" stroke-width="1.15"/><circle cx="169.50" cy="411.00" r="2.65" fill="none" stroke="#b3601a" stroke-width="1.15"/><circle cx="177.50" cy="406.50" r="2.65" fill="none" stroke="#b3601a" stroke-width="1.15"/><circle cx="185.50" cy="405.30" r="2.65" fill="none" stroke="#b3601a" stroke-width="1.15"/><circle cx="193.50" cy="406.80" r="2.65" fill="none" stroke="#b3601a" stroke-width="1.15"/><circle cx="201.50" cy="407.30" r="2.65" fill="none" stroke="#b3601a" stroke-width="1.15"/><circle cx="209.50" cy="409.60" r="2.65" fill="none" stroke="#b3601a" stroke-width="1.15"/><circle cx="217.50" cy="405.90" r="2.65" fill="none" stroke="#b3601a" stroke-width="1.15"/><circle cx="225.50" cy="407.40" r="2.65" fill="none" stroke="#b3601a" stroke-width="1.15"/><circle cx="233.50" cy="413.50" r="2.65" fill="none" stroke="#b3601a" stroke-width="1.15"/><circle cx="241.50" cy="407.80" r="2.65" fill="none" stroke="#b3601a" stroke-width="1.15"/><circle cx="249.50" cy="407.00" r="2.65" fill="none" stroke="#b3601a" stroke-width="1.15"/><circle cx="257.50" cy="404.70" r="2.65" fill="none" stroke="#b3601a" stroke-width="1.15"/><circle cx="265.50" cy="405.00" r="2.65" fill="none" stroke="#b3601a" stroke-width="1.15"/><circle cx="277.50" cy="408.50" r="2.65" fill="none" stroke="#b3601a" stroke-width="1.15"/><circle cx="293.50" cy="419.30" r="2.65" fill="none" stroke="#b3601a" stroke-width="1.15"/><circle cx="309.50" cy="434.50" r="2.65" fill="none" stroke="#b3601a" stroke-width="1.15"/><circle cx="325.50" cy="424.00" r="2.65" fill="none" stroke="#b3601a" stroke-width="1.15"/><circle cx="357.50" cy="477.30" r="2.65" fill="none" stroke="#b3601a" stroke-width="1.15"/><path d="M73.50,410.40 L81.50,409.80 L89.50,410.50 L97.50,409.00 L105.50,406.60 L113.50,406.10 L121.50,402.20 L129.50,400.20 L137.50,400.50 L145.50,397.00 L153.50,396.00 L161.50,393.60 L169.50,392.60 L177.50,391.70 L185.50,389.20 L193.50,389.70 L201.50,389.50 L209.50,386.60 L217.50,384.50 L225.50,386.00 L233.50,384.50 L241.50,387.10 L249.50,388.70 L257.50,385.60 L265.50,389.70 L277.50,388.20 L293.50,393.10 L309.50,396.30 L325.50,399.80 L357.50,424.50" fill="none" stroke="#3e9c2a" stroke-width="1.2" stroke-dasharray="2.7,1.5"/><rect x="70.80" y="407.70" width="5.4" height="5.4" fill="none" stroke="#3e9c2a" stroke-width="1.05"/><rect x="78.80" y="407.10" width="5.4" height="5.4" fill="none" stroke="#3e9c2a" stroke-width="1.05"/><rect x="86.80" y="407.80" width="5.4" height="5.4" fill="none" stroke="#3e9c2a" stroke-width="1.05"/><rect x="94.80" y="406.30" width="5.4" height="5.4" fill="none" stroke="#3e9c2a" stroke-width="1.05"/><rect x="102.80" y="403.90" width="5.4" height="5.4" fill="none" stroke="#3e9c2a" stroke-width="1.05"/><rect x="110.80" y="403.40" width="5.4" height="5.4" fill="none" stroke="#3e9c2a" stroke-width="1.05"/><rect x="118.80" y="399.50" width="5.4" height="5.4" fill="none" stroke="#3e9c2a" stroke-width="1.05"/><rect x="126.80" y="397.50" width="5.4" height="5.4" fill="none" stroke="#3e9c2a" stroke-width="1.05"/><rect x="134.80" y="397.80" width="5.4" height="5.4" fill="none" stroke="#3e9c2a" stroke-width="1.05"/><rect x="142.80" y="394.30" width="5.4" height="5.4" fill="none" stroke="#3e9c2a" stroke-width="1.05"/><rect x="150.80" y="393.30" width="5.4" height="5.4" fill="none" stroke="#3e9c2a" stroke-width="1.05"/><rect x="158.80" y="390.90" width="5.4" height="5.4" fill="none" stroke="#3e9c2a" stroke-width="1.05"/><rect x="166.80" y="389.90" width="5.4" height="5.4" fill="none" stroke="#3e9c2a" stroke-width="1.05"/><rect x="174.80" y="389.00" width="5.4" height="5.4" fill="none" stroke="#3e9c2a" stroke-width="1.05"/><rect x="182.80" y="386.50" width="5.4" height="5.4" fill="none" stroke="#3e9c2a" stroke-width="1.05"/><rect x="190.80" y="387.00" width="5.4" height="5.4" fill="none" stroke="#3e9c2a" stroke-width="1.05"/><rect x="198.80" y="386.80" width="5.4" height="5.4" fill="none" stroke="#3e9c2a" stroke-width="1.05"/><rect x="206.80" y="383.90" width="5.4" height="5.4" fill="none" stroke="#3e9c2a" stroke-width="1.05"/><rect x="214.80" y="381.80" width="5.4" height="5.4" fill="none" stroke="#3e9c2a" stroke-width="1.05"/><rect x="222.80" y="383.30" width="5.4" height="5.4" fill="none" stroke="#3e9c2a" stroke-width="1.05"/><rect x="230.80" y="381.80" width="5.4" height="5.4" fill="none" stroke="#3e9c2a" stroke-width="1.05"/><rect x="238.80" y="384.40" width="5.4" height="5.4" fill="none" stroke="#3e9c2a" stroke-width="1.05"/><rect x="246.80" y="386.00" width="5.4" height="5.4" fill="none" stroke="#3e9c2a" stroke-width="1.05"/><rect x="254.80" y="382.90" width="5.4" height="5.4" fill="none" stroke="#3e9c2a" stroke-width="1.05"/><rect x="262.80" y="387.00" width="5.4" height="5.4" fill="none" stroke="#3e9c2a" stroke-width="1.05"/><rect x="274.80" y="385.50" width="5.4" height="5.4" fill="none" stroke="#3e9c2a" stroke-width="1.05"/><rect x="290.80" y="390.40" width="5.4" height="5.4" fill="none" stroke="#3e9c2a" stroke-width="1.05"/><rect x="306.80" y="393.60" width="5.4" height="5.4" fill="none" stroke="#3e9c2a" stroke-width="1.05"/><rect x="322.80" y="397.10" width="5.4" height="5.4" fill="none" stroke="#3e9c2a" stroke-width="1.05"/><rect x="354.80" y="421.80" width="5.4" height="5.4" fill="none" stroke="#3e9c2a" stroke-width="1.05"/><path d="M73.50,401.80 L81.50,398.80 L89.50,401.30 L97.50,399.80 L105.50,400.40 L113.50,400.00 L121.50,398.00 L129.50,396.30 L137.50,396.00 L145.50,393.10 L153.50,392.00 L161.50,389.50 L169.50,388.30 L177.50,389.40 L185.50,388.20 L193.50,388.40 L201.50,387.80 L209.50,387.70 L217.50,386.00 L225.50,389.50 L233.50,389.80 L241.50,391.50 L249.50,392.50 L257.50,395.50 L265.50,399.80 L277.50,402.40 L293.50,409.40 L309.50,413.50 L325.50,417.20 L357.50,432.70" fill="none" stroke="#0000ff" stroke-width="1.2"/><path d="M73.50,398.90 L76.40,404.10 L70.60,404.10 Z" fill="#0000ff"/><path d="M81.50,395.90 L84.40,401.10 L78.60,401.10 Z" fill="#0000ff"/><path d="M89.50,398.40 L92.40,403.60 L86.60,403.60 Z" fill="#0000ff"/><path d="M97.50,396.90 L100.40,402.10 L94.60,402.10 Z" fill="#0000ff"/><path d="M105.50,397.50 L108.40,402.70 L102.60,402.70 Z" fill="#0000ff"/><path d="M113.50,397.10 L116.40,402.30 L110.60,402.30 Z" fill="#0000ff"/><path d="M121.50,395.10 L124.40,400.30 L118.60,400.30 Z" fill="#0000ff"/><path d="M129.50,393.40 L132.40,398.60 L126.60,398.60 Z" fill="#0000ff"/><path d="M137.50,393.10 L140.40,398.30 L134.60,398.30 Z" fill="#0000ff"/><path d="M145.50,390.20 L148.40,395.40 L142.60,395.40 Z" fill="#0000ff"/><path d="M153.50,389.10 L156.40,394.30 L150.60,394.30 Z" fill="#0000ff"/><path d="M161.50,386.60 L164.40,391.80 L158.60,391.80 Z" fill="#0000ff"/><path d="M169.50,385.40 L172.40,390.60 L166.60,390.60 Z" fill="#0000ff"/><path d="M177.50,386.50 L180.40,391.70 L174.60,391.70 Z" fill="#0000ff"/><path d="M185.50,385.30 L188.40,390.50 L182.60,390.50 Z" fill="#0000ff"/><path d="M193.50,385.50 L196.40,390.70 L190.60,390.70 Z" fill="#0000ff"/><path d="M201.50,384.90 L204.40,390.10 L198.60,390.10 Z" fill="#0000ff"/><path d="M209.50,384.80 L212.40,390.00 L206.60,390.00 Z" fill="#0000ff"/><path d="M217.50,383.10 L220.40,388.30 L214.60,388.30 Z" fill="#0000ff"/><path d="M225.50,386.60 L228.40,391.80 L222.60,391.80 Z" fill="#0000ff"/><path d="M233.50,386.90 L236.40,392.10 L230.60,392.10 Z" fill="#0000ff"/><path d="M241.50,388.60 L244.40,393.80 L238.60,393.80 Z" fill="#0000ff"/><path d="M249.50,389.60 L252.40,394.80 L246.60,394.80 Z" fill="#0000ff"/><path d="M257.50,392.60 L260.40,397.80 L254.60,397.80 Z" fill="#0000ff"/><path d="M265.50,396.90 L268.40,402.10 L262.60,402.10 Z" fill="#0000ff"/><path d="M277.50,399.50 L280.40,404.70 L274.60,404.70 Z" fill="#0000ff"/><path d="M293.50,406.50 L296.40,411.70 L290.60,411.70 Z" fill="#0000ff"/><path d="M309.50,410.60 L312.40,415.80 L306.60,415.80 Z" fill="#0000ff"/><path d="M325.50,414.30 L328.40,419.50 L322.60,419.50 Z" fill="#0000ff"/><path d="M357.50,429.80 L360.40,435.00 L354.60,435.00 Z" fill="#0000ff"/><path d="M73.50,434.70 L81.50,430.70 L89.50,427.60 L97.50,423.50 L105.50,421.50 L113.50,417.30 L121.50,414.30 L129.50,413.80 L137.50,408.20 L145.50,405.80 L153.50,405.40 L161.50,401.00 L169.50,398.70 L177.50,399.10 L185.50,396.30 L193.50,395.00 L201.50,391.00 L209.50,392.80 L217.50,389.10 L225.50,384.00 L233.50,385.30 L241.50,381.20 L249.50,379.80 L257.50,380.30 L265.50,379.00 L277.50,377.20 L293.50,379.50 L309.50,382.20 L325.50,384.70 L357.50,369.80" fill="none" stroke="#ff0000" stroke-width="1.1" stroke-dasharray="1.5,0.9"/><path d="M73.50,431.30 L75.80,434.70 L73.50,438.10 L71.20,434.70 Z" fill="#ff0000"/><path d="M81.50,427.30 L83.80,430.70 L81.50,434.10 L79.20,430.70 Z" fill="#ff0000"/><path d="M89.50,424.20 L91.80,427.60 L89.50,431.00 L87.20,427.60 Z" fill="#ff0000"/><path d="M97.50,420.10 L99.80,423.50 L97.50,426.90 L95.20,423.50 Z" fill="#ff0000"/><path d="M105.50,418.10 L107.80,421.50 L105.50,424.90 L103.20,421.50 Z" fill="#ff0000"/><path d="M113.50,413.90 L115.80,417.30 L113.50,420.70 L111.20,417.30 Z" fill="#ff0000"/><path d="M121.50,410.90 L123.80,414.30 L121.50,417.70 L119.20,414.30 Z" fill="#ff0000"/><path d="M129.50,410.40 L131.80,413.80 L129.50,417.20 L127.20,413.80 Z" fill="#ff0000"/><path d="M137.50,404.80 L139.80,408.20 L137.50,411.60 L135.20,408.20 Z" fill="#ff0000"/><path d="M145.50,402.40 L147.80,405.80 L145.50,409.20 L143.20,405.80 Z" fill="#ff0000"/><path d="M153.50,402.00 L155.80,405.40 L153.50,408.80 L151.20,405.40 Z" fill="#ff0000"/><path d="M161.50,397.60 L163.80,401.00 L161.50,404.40 L159.20,401.00 Z" fill="#ff0000"/><path d="M169.50,395.30 L171.80,398.70 L169.50,402.10 L167.20,398.70 Z" fill="#ff0000"/><path d="M177.50,395.70 L179.80,399.10 L177.50,402.50 L175.20,399.10 Z" fill="#ff0000"/><path d="M185.50,392.90 L187.80,396.30 L185.50,399.70 L183.20,396.30 Z" fill="#ff0000"/><path d="M193.50,391.60 L195.80,395.00 L193.50,398.40 L191.20,395.00 Z" fill="#ff0000"/><path d="M201.50,387.60 L203.80,391.00 L201.50,394.40 L199.20,391.00 Z" fill="#ff0000"/><path d="M209.50,389.40 L211.80,392.80 L209.50,396.20 L207.20,392.80 Z" fill="#ff0000"/><path d="M217.50,385.70 L219.80,389.10 L217.50,392.50 L215.20,389.10 Z" fill="#ff0000"/><path d="M225.50,380.60 L227.80,384.00 L225.50,387.40 L223.20,384.00 Z" fill="#ff0000"/><path d="M233.50,381.90 L235.80,385.30 L233.50,388.70 L231.20,385.30 Z" fill="#ff0000"/><path d="M241.50,377.80 L243.80,381.20 L241.50,384.60 L239.20,381.20 Z" fill="#ff0000"/><path d="M249.50,376.40 L251.80,379.80 L249.50,383.20 L247.20,379.80 Z" fill="#ff0000"/><path d="M257.50,376.90 L259.80,380.30 L257.50,383.70 L255.20,380.30 Z" fill="#ff0000"/><path d="M265.50,375.60 L267.80,379.00 L265.50,382.40 L263.20,379.00 Z" fill="#ff0000"/><path d="M277.50,373.80 L279.80,377.20 L277.50,380.60 L275.20,377.20 Z" fill="#ff0000"/><path d="M293.50,376.10 L295.80,379.50 L293.50,382.90 L291.20,379.50 Z" fill="#ff0000"/><path d="M309.50,378.80 L311.80,382.20 L309.50,385.60 L307.20,382.20 Z" fill="#ff0000"/><path d="M325.50,381.30 L327.80,384.70 L325.50,388.10 L323.20,384.70 Z" fill="#ff0000"/><path d="M357.50,366.40 L359.80,369.80 L357.50,373.20 L355.20,369.80 Z" fill="#ff0000"/>
<rect x="45.5" y="17.7" width="325.90" height="299.70" fill="none" stroke="#000" stroke-width="1.2"/>
<rect x="45.5" y="317.4" width="325.90" height="160.30" fill="none" stroke="#000" stroke-width="1.2"/>
<line x1="44.9" y1="477.7" x2="372.0" y2="477.7" stroke="#000" stroke-width="1.8"/>
<circle cx="357.50" cy="477.30" r="2.65" fill="none" stroke="#b3601a" stroke-width="1.15"/>
<path d="M356.20,474.30 H358.80 M356.20,480.30 H358.80" stroke="#b3601a" stroke-width="1.1" fill="none"/>
<rect x="73.8" y="59.3" width="5.5" height="5.5" fill="#000"/>
<line x1="64" y1="75.0" x2="89" y2="75.0" stroke="#b3601a" stroke-width="1.05" stroke-dasharray="2.7,1.5"/>
<circle cx="76.40" cy="75.00" r="2.65" fill="none" stroke="#b3601a" stroke-width="1.15"/>
<line x1="64" y1="88.0" x2="89" y2="88.0" stroke="#3e9c2a" stroke-width="1.05" stroke-dasharray="2.7,1.5"/>
<rect x="73.70" y="85.30" width="5.4" height="5.4" fill="none" stroke="#3e9c2a" stroke-width="1.05"/>
<line x1="64" y1="101.0" x2="89" y2="101.0" stroke="#0000ff" stroke-width="1.05"/>
<path d="M76.40,98.10 L79.30,103.30 L73.50,103.30 Z" fill="#0000ff"/>
<line x1="64" y1="114.2" x2="89" y2="114.2" stroke="#ff0000" stroke-width="1.05" stroke-dasharray="1.5,0.9"/>
<path d="M76.40,110.80 L78.70,114.20 L76.40,117.60 L74.10,114.20 Z" fill="#ff0000"/>
<text x="94" y="64.9" font-size="9.45">ATLAS</text>
<text x="94" y="77.9" font-size="9.45">Herwig++ 2.5.0 default</text>
<text x="94" y="90.9" font-size="9.45">Herwig 7.2.1 default</text>
<text x="94" y="103.9" font-size="9.45">Pythia 8.308 default</text>
<text x="94" y="117.1" font-size="9.45">Sherpa 2.2.9 default</text>
<text x="51" y="13.5" font-size="12.2">7000 GeV pp</text>
<text x="366.5" y="13.5" font-size="12.2" text-anchor="end">Soft QCD</text>
<text x="128.9" y="43.4" font-size="12">Momentum fraction z<tspan font-size="10" dy="0">(track jets)</tspan></text>
<text x="168" y="301.4" font-size="8" fill="#aaa">ATLAS_2011_I919017</text>
<path d="M29.68,152.10 H30.82 V159.80 H29.68 Z M29.78,152.10 L27.85,153.25 L27.85,154.10 L29.78,153.70 Z" fill="#000"/><text x="33.9" y="159.8" font-size="11.5">0</text>
<path d="M37.77,237.10 H38.93 V244.90 H37.77 Z M37.88,237.10 L35.95,238.25 L35.95,239.10 L37.88,238.70 Z" fill="#000"/>
<path d="M25.88,66.80 H27.02 V74.60 H25.88 Z M25.98,66.80 L24.05,67.95 L24.05,68.80 L25.98,68.40 Z" fill="#000"/><text x="28.6" y="74.6" font-size="11.5">0</text><text x="34.5" y="71.1" font-size="8.1">2</text>
<text x="38.5" y="340.9" font-size="11.5" text-anchor="end">2</text>
<path d="M35.97,393.90 H37.12 V401.90 H35.97 Z M36.07,393.90 L34.15,395.05 L34.15,395.90 L36.07,395.50 Z" fill="#000"/>
<text x="39.3" y="462.3" font-size="11.5" text-anchor="end" letter-spacing="0.6">0.5</text>
<text x="373.2" y="340.8" font-size="11.5">2</text>
<path d="M376.93,394.90 H378.07 V402.90 H376.93 Z M377.03,394.90 L375.10,396.05 L375.10,396.90 L377.03,396.50 Z" fill="#000"/>
<text x="373.5" y="462.3" font-size="11.5" letter-spacing="0.6">0.5</text>
<text x="46" y="488.9" font-size="11.5" text-anchor="middle">0</text>
<text x="205.9" y="488.9" font-size="11.5" text-anchor="middle" letter-spacing="0.6">0.5</text>
<path d="M365.88,480.90 H367.02 V488.90 H365.88 Z M365.98,480.90 L364.05,482.05 L364.05,482.90 L365.98,482.50 Z" fill="#000"/>
<text x="371.5" y="504.1" font-size="12.4" text-anchor="end">Charged particle z</text>
<text transform="translate(15,77.5) rotate(-90)" font-size="11.8">1/N<tspan font-size="8" dy="3.5">jet</tspan><tspan dy="-3.5"> dN/dz</tspan></text>
<text transform="translate(18.2,428.5) rotate(-90)" font-size="9.4">Ratio to ATLAS</text>
<text transform="translate(380,132.4) rotate(-90)" font-size="9.45" fill="#7a7a7a">Rivet 3.1.10, ≥ 400k events</text>
<text transform="translate(379.3,314.0) rotate(-90)" font-size="9.45" fill="#7a7a7a">mcplots.cern.ch [arXiv:1306.3436]</text>
</svg></body></html>
